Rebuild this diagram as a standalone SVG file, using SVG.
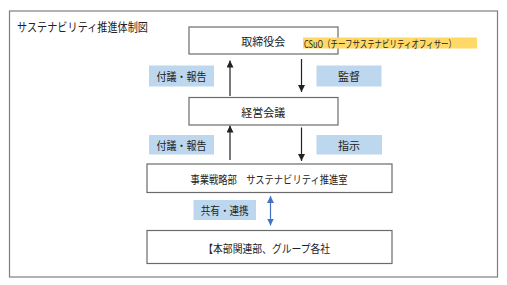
<svg xmlns="http://www.w3.org/2000/svg" width="507" height="285" viewBox="0 0 507 285">
<style>
text{font-family:"Noto Sans CJK JP","Noto Sans",sans-serif;font-size:11px;fill:#222;dominant-baseline:central;text-anchor:middle}
.box{fill:#fff;stroke:#6b6b6b;stroke-width:1.2}
.lbl{fill:#BDD7EE}
.ln{stroke:#222;stroke-width:1.2;fill:none}
.bl{stroke:#4472C4;stroke-width:1.2;fill:none}
</style>
<defs>
<marker id="ah" viewBox="0 0 8 8" refX="8" refY="4" markerWidth="7" markerHeight="7" markerUnits="userSpaceOnUse" orient="auto"><path d="M0,0L8,4L0,8z" fill="#222"/></marker>
<marker id="ab" viewBox="0 0 8 8" refX="8" refY="4" markerWidth="7" markerHeight="7" markerUnits="userSpaceOnUse" orient="auto-start-reverse"><path d="M0,0L8,4L0,8z" fill="#4472C4"/></marker>
</defs>
<rect x="9.5" y="11" width="488" height="266" fill="#fff" stroke="#7f7f7f" stroke-width="1.2"/>
<text x="17" y="26.5" style="text-anchor:start;font-size:12px" textLength="131" lengthAdjust="spacingAndGlyphs">サステナビリティ推進体制図</text>

<g id="connectors">
<line class="ln" x1="230" y1="96" x2="230" y2="60.5" marker-end="url(#ah)"/>
<line class="ln" x1="301.5" y1="59" x2="301.5" y2="92" marker-end="url(#ah)"/>
<line class="ln" x1="230" y1="160" x2="230" y2="125.5" marker-end="url(#ah)"/>
<line class="ln" x1="301.5" y1="127.5" x2="301.5" y2="161" marker-end="url(#ah)"/>
<line class="bl" x1="270.5" y1="196" x2="270.5" y2="225.5" marker-start="url(#ab)" marker-end="url(#ab)"/>
<g id="lbl1"><rect class="lbl" x="149" y="65.5" width="65" height="21"/><text x="181.5" y="76" textLength="50" lengthAdjust="spacingAndGlyphs">付議・報告</text></g>
<g id="lbl2"><rect class="lbl" x="316.5" y="65.5" width="65" height="21"/><text x="349" y="76">監督</text></g>
<g id="lbl3"><rect class="lbl" x="149" y="135" width="65" height="19.5"/><text x="181.5" y="144.7" textLength="50" lengthAdjust="spacingAndGlyphs">付議・報告</text></g>
<g id="lbl4"><rect class="lbl" x="316.5" y="135" width="65.5" height="19.5"/><text x="349" y="144.7">指示</text></g>
<g id="lbl5"><rect class="lbl" x="193.5" y="200" width="62.5" height="20"/><text x="224.7" y="210" textLength="48" lengthAdjust="spacingAndGlyphs">共有・連携</text></g>
</g>

<g id="board"><rect class="box" x="189" y="27" width="149" height="27"/><text x="263.3" y="40.7">取締役会</text></g>
<g id="csuo"><rect x="303" y="37.5" width="174" height="11" fill="#FFD966"/><text x="304" y="43" style="text-anchor:start;font-size:10px" textLength="152" lengthAdjust="spacingAndGlyphs">CSuO（チーフサステナビリティオフィサー）</text></g>
<g id="mgmt"><rect class="box" x="189" y="97.5" width="149" height="27.5"/><text x="263.3" y="111.5">経営会議</text></g>
<g id="office"><rect class="box" x="147" y="164" width="245" height="28.5"/><text x="269" y="178.5" textLength="157" lengthAdjust="spacingAndGlyphs">事業戦略部　サステナビリティ推進室</text></g>
<g id="group"><rect class="box" x="147" y="230.5" width="245" height="33"/><text x="266.7" y="248" textLength="127" lengthAdjust="spacingAndGlyphs">【本部関連部、グループ各社</text></g>
</svg>
